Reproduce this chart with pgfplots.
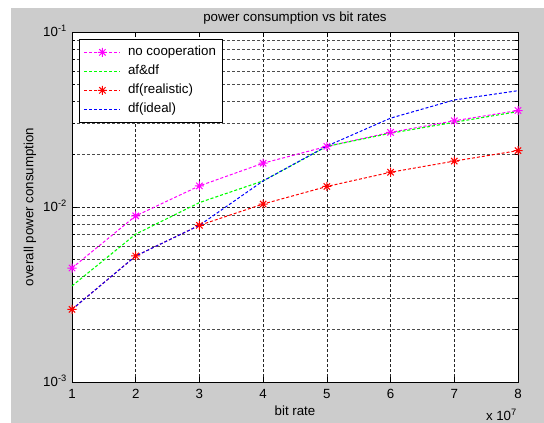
\documentclass[border=0pt]{standalone}
\usepackage{fontspec}
\setmainfont{Liberation Sans}
\usepackage{pgfplots}
\pgfplotsset{compat=1.18}
\definecolor{figgray}{RGB}{204,204,204}
\definecolor{mmag}{RGB}{255,0,255}
\definecolor{mgreen}{RGB}{0,255,0}
\definecolor{mred}{RGB}{255,0,0}
\definecolor{mblue}{RGB}{0,0,255}
\pgfdeclareplotmark{mstar}{%
  \pgfpathmoveto{\pgfqpoint{-\pgfplotmarksize}{0pt}}\pgfpathlineto{\pgfqpoint{\pgfplotmarksize}{0pt}}%
  \pgfpathmoveto{\pgfqpoint{0pt}{-\pgfplotmarksize}}\pgfpathlineto{\pgfqpoint{0pt}{\pgfplotmarksize}}%
  \pgfpathmoveto{\pgfqpoint{-0.707\pgfplotmarksize}{-0.707\pgfplotmarksize}}\pgfpathlineto{\pgfqpoint{0.707\pgfplotmarksize}{0.707\pgfplotmarksize}}%
  \pgfpathmoveto{\pgfqpoint{-0.707\pgfplotmarksize}{0.707\pgfplotmarksize}}\pgfpathlineto{\pgfqpoint{0.707\pgfplotmarksize}{-0.707\pgfplotmarksize}}%
  \pgfusepathqstroke}
\newcommand\fs{\fontsize{13.3bp}{16bp}\selectfont}
\begin{document}
\begin{tikzpicture}[font=\fs]
\path[use as bounding box] (0,0) rectangle (544bp,423bp);
\fill[white] (0,0) rectangle (544bp,423bp);
\fill[figgray] (11bp,0) rectangle (544bp,415bp);
\begin{axis}[
  at={(72bp,41bp)}, anchor=south west,
  scale only axis, width=446bp, height=350bp,
  clip=false,
  ymode=log, xmin=1, xmax=8, ymin=0.001, ymax=0.1,
  axis background/.style={fill=white},
  xtick={1,2,3,4,5,6,7,8}, xticklabels={1,2,3,4,5,6,7,8},
  ytick={0.001,0.01,0.1},
  yticklabels={10\textsuperscript{-3},10\textsuperscript{-2},10\textsuperscript{-1}},
  minor ytick={0.002,0.003,0.004,0.005,0.006,0.007,0.008,0.009,0.02,0.03,0.04,0.05,0.06,0.07,0.08,0.09},
  tick align=inside, major tick length=5bp, minor tick length=3bp,
  xmajorgrids, ymajorgrids, yminorgrids,
  major grid style={black!85, line width=0.6bp, dash pattern=on 3bp off 2bp},
  minor grid style={black!70, line width=0.6bp, dash pattern=on 3bp off 2bp},
  axis line style={black, line width=0.8bp},
  every tick/.style={black, line width=0.6bp},
  xticklabel style={anchor=base, yshift=-16bp, inner sep=0pt, font=\fs},
  yticklabel style={anchor=base east, inner sep=0pt, xshift=-5bp, yshift=-4.75bp, font=\fs},
  xlabel={bit rate},
  xlabel style={at={(axis description cs:0.5,-0.0971)}, anchor=base, inner sep=0pt, font=\fs},
  ylabel={overall power consumption},
  ylabel style={at={(axis description cs:-0.0868,0.5)}, anchor=base, inner sep=0pt, font=\fs},
  legend style={at={(axis description cs:0.0157,0.98)}, anchor=north west, draw=black, fill=white,
    line width=0.6bp, inner xsep=4.5bp, inner ysep=4.5bp,
    nodes={inner sep=2bp, text height=10bp, text depth=3bp, font=\fs},
    row sep=2bp, column sep=5bp},
  legend cell align=left,
  legend image code/.code={\draw[mark repeat=2,mark phase=2,#1,line width=1.2bp] plot coordinates {(0bp,0bp) (18bp,0bp) (36bp,0bp)};},
]
\addplot[color=mmag, line width=1bp, dash pattern=on 3bp off 2bp, mark=mstar, mark size=4.5bp, mark options={solid, line width=1bp}]
  coordinates {(1,0.00448) (2,0.0089) (3,0.0132) (4,0.0178) (5,0.0222) (6,0.0267) (7,0.0311) (8,0.0356)};
\addlegendentry{no cooperation}
\addplot[color=mgreen, line width=1.1bp, dash pattern=on 3bp off 2bp]
  coordinates {(1,0.00354) (2,0.0070) (3,0.0106) (4,0.0141) (5,0.0222) (6,0.0264) (7,0.0305) (8,0.0351)};
\addlegendentry{af\&df}
\addplot[color=mred, line width=1bp, dash pattern=on 3bp off 2bp, mark=mstar, mark size=4.5bp, mark options={solid, line width=1bp}]
  coordinates {(1,0.0026) (2,0.00525) (3,0.00786) (4,0.0104) (5,0.0131) (6,0.0158) (7,0.0183) (8,0.0210)};
\addlegendentry{df(realistic)}
\addplot[color=mblue, line width=1bp, dash pattern=on 3bp off 2bp]
  coordinates {(1,0.0026) (2,0.00525) (3,0.00786) (4,0.0141) (5,0.0223) (6,0.0322) (7,0.0409) (8,0.0462)};
\addlegendentry{df(ideal)}
\node[anchor=base, inner sep=0pt] at (axis description cs:0.5,1.0314) {power consumption vs bit rates};
\node[anchor=base east, inner sep=0pt] at (axis description cs:0.9978,-0.1114) {x 10\textsuperscript{7}};
\end{axis}
\end{tikzpicture}
\end{document}
